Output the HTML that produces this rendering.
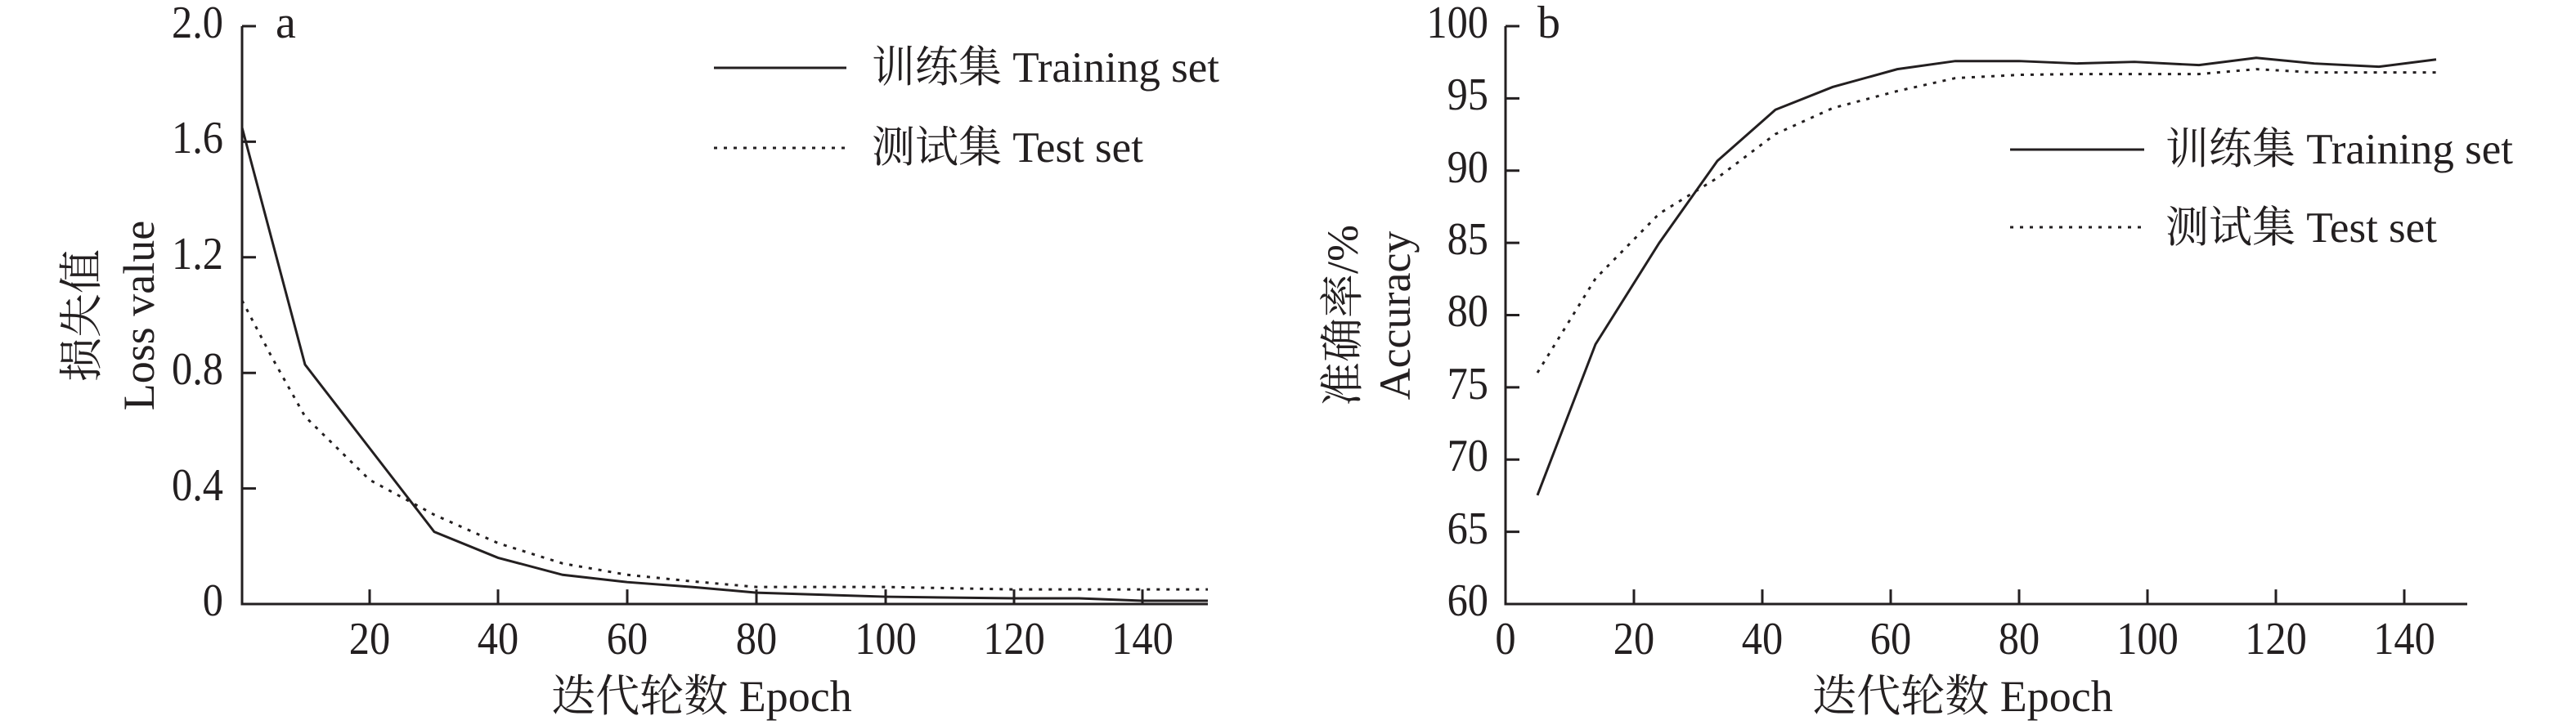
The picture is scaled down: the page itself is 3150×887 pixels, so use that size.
<!DOCTYPE html>
<html><head><meta charset="utf-8"><style>
html,body{margin:0;padding:0;background:#fff;width:3150px;height:887px;overflow:hidden}
text{font-family:"Liberation Serif","Noto Serif CJK SC","Noto Sans CJK SC",serif;fill:#231f20}
</style></head><body>
<svg width="3150" height="887" viewBox="0 0 3150 887" xmlns="http://www.w3.org/2000/svg">
<g transform="translate(0 32) scale(1 0.99298) translate(0 -32)">
<g stroke="#231f20" stroke-width="3" fill="none">
<path d="M296 32 V744 H1477"/>
<path d="M296 32 H313 M296 174.4 H313 M296 316.8 H313 M296 459.2 H313 M296 601.6 H313"/>
<path d="M452 744 V726 M609 744 V726 M767 744 V726 M925 744 V726 M1083 744 V726 M1240 744 V726 M1397 744 V726"/>
<path d="M1841 32 V744 H3017"/>
<path d="M1841 32 H1858 M1841 121 H1858 M1841 210 H1858 M1841 299 H1858 M1841 388 H1858 M1841 477 H1858 M1841 566 H1858 M1841 655 H1858"/>
<path d="M1998 744 V726 M2155 744 V726 M2312 744 V726 M2469 744 V726 M2626 744 V726 M2783 744 V726 M2940 744 V726"/>
<polyline points="296,157 373,449 452,552 531,655 609,687 688,708 767,717 846,723 925,730 1083,735 1240,737 1319,737 1397,740 1477,740"/>
<polyline stroke-dasharray="4 8" points="296,370 333,441 373,513 452,591 531,634 609,669 688,694 767,708 846,716 925,723 1083,723 1240,726 1477,726"/>
<polyline points="1880,610 1951,424 2029,299 2100,198 2171,135 2241,107 2320,85 2391,75 2469,75 2540,78 2610,76 2689,80 2759,71 2830,78 2909,82 2979,73"/>
<polyline stroke-dasharray="4 8" points="1880,459 1951,343 2029,263 2100,219 2171,165 2241,133 2320,112 2391,96 2469,92 2540,91 2610,91 2689,91 2759,85 2830,89 2909,89 2979,89"/>
</g>
</g>
<g stroke="#231f20" stroke-width="3" fill="none">
<path d="M873 83 H1035"/>
<path d="M873 181 H1035" stroke-dasharray="4 8"/>
<path d="M2458 183 H2622"/>
<path d="M2458 278 H2622" stroke-dasharray="4 8"/>
</g>
<g font-size="56" text-anchor="end">
<text transform="translate(273 46) scale(0.9 1)">2.0</text>
<text transform="translate(273 187) scale(0.9 1)">1.6</text>
<text transform="translate(273 329) scale(0.9 1)">1.2</text>
<text transform="translate(273 470) scale(0.9 1)">0.8</text>
<text transform="translate(273 612) scale(0.9 1)">0.4</text>
<text transform="translate(273 753) scale(0.9 1)">0</text>
<text transform="translate(1820 46) scale(0.9 1)">100</text>
<text transform="translate(1820 134) scale(0.9 1)">95</text>
<text transform="translate(1820 223) scale(0.9 1)">90</text>
<text transform="translate(1820 311) scale(0.9 1)">85</text>
<text transform="translate(1820 399) scale(0.9 1)">80</text>
<text transform="translate(1820 488) scale(0.9 1)">75</text>
<text transform="translate(1820 576) scale(0.9 1)">70</text>
<text transform="translate(1820 665) scale(0.9 1)">65</text>
<text transform="translate(1820 753) scale(0.9 1)">60</text>
</g>
<g font-size="56" text-anchor="middle">
<text transform="translate(452 800) scale(0.9 1)">20</text>
<text transform="translate(609 800) scale(0.9 1)">40</text>
<text transform="translate(767 800) scale(0.9 1)">60</text>
<text transform="translate(925 800) scale(0.9 1)">80</text>
<text transform="translate(1083 800) scale(0.9 1)">100</text>
<text transform="translate(1240 800) scale(0.9 1)">120</text>
<text transform="translate(1397 800) scale(0.9 1)">140</text>
<text transform="translate(1841 800) scale(0.9 1)">0</text>
<text transform="translate(1998 800) scale(0.9 1)">20</text>
<text transform="translate(2155 800) scale(0.9 1)">40</text>
<text transform="translate(2312 800) scale(0.9 1)">60</text>
<text transform="translate(2469 800) scale(0.9 1)">80</text>
<text transform="translate(2626 800) scale(0.9 1)">100</text>
<text transform="translate(2783 800) scale(0.9 1)">120</text>
<text transform="translate(2940 800) scale(0.9 1)">140</text>
</g>
<g font-size="54" text-anchor="middle">
<text x="858" y="870">迭代轮数 Epoch</text>
<text x="2400" y="870">迭代轮数 Epoch</text>
<text transform="translate(118 386) rotate(-90)">损失值</text>
<text transform="translate(188 386) rotate(-90)">Loss value</text>
<text transform="translate(1660 386) rotate(-90)">准确率/%</text>
<text transform="translate(1724 386) rotate(-90)">Accuracy</text>
</g>
<g font-size="53">
<text x="337" y="46" font-size="56">a</text>
<text x="1880" y="46" font-size="56">b</text>
<text x="1066" y="100">训练集 Training set</text>
<text x="1066" y="198">测试集 Test set</text>
<text x="2648" y="200">训练集 Training set</text>
<text x="2648" y="296">测试集 Test set</text>
</g>
</svg>
</body></html>
